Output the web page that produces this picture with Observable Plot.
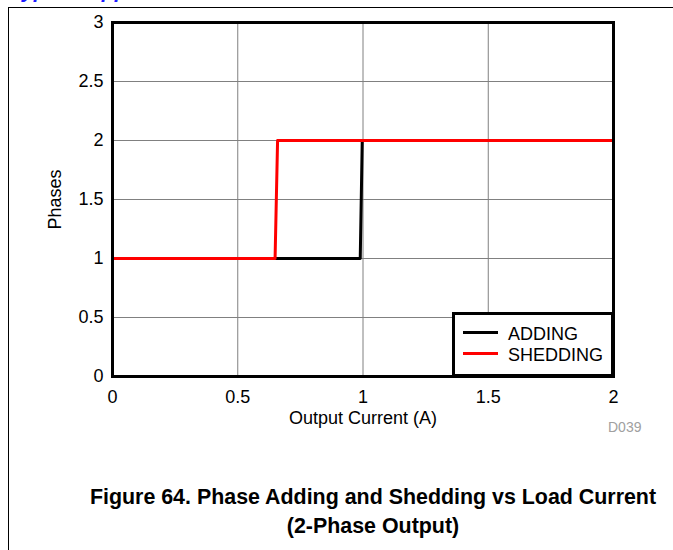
<!DOCTYPE html>
<html>
<head>
<meta charset="utf-8">
<script src="https://cdn.jsdelivr.net/npm/d3@7"></script>
<script src="https://cdn.jsdelivr.net/npm/@observablehq/plot@0.6"></script>
<style>
  html, body { margin: 0; padding: 0; background: #fff; }
  body { width: 673px; height: 550px; position: relative; overflow: hidden; font-family: "Liberation Sans", Arial, sans-serif; }
  #border { position: absolute; left: 8px; top: 7px; width: 700px; height: 600px; border-left: 1px solid #000; border-top: 1px solid #000; }
  #header { position: absolute; left: 10px; top: -20px; font-size: 21px; font-weight: bold; font-style: italic; color: #1a1aff; white-space: nowrap; line-height: 21px; }
  #chart { position: absolute; left: 0; top: 0; }
  #legend { position: absolute; left: 452px; top: 312px; width: 162px; height: 65px; box-sizing: border-box; border: 3px solid #000; background: #fff; }
  .lg { position: absolute; left: 8px; width: 35px; height: 0; border-top: 3px solid; }
  .lt { position: absolute; left: 53px; font-size: 18px; line-height: 18px; white-space: nowrap; color: #000; }
  #d039 { position: absolute; left: 608px; top: 420px; font-size: 14px; line-height: 14px; color: #a0a0a0; }
  .title { position: absolute; left: 0; width: 746px; text-align: center; font-size: 21.4px; font-weight: bold; line-height: 31px; color: #000; white-space: nowrap; }
</style>
</head>
<body>
<div id="border"></div>
<div id="header">Typical Applications</div>
<div id="chart"></div>
<div id="legend"></div>
<div id="d039">D039</div>
<div class="title" id="t1"></div>
<div class="title" id="t2"></div>
<script>
// ---- data ----
const addingCurrent = [0, 0.989, 0.997, 2];
const addingPhases  = [1, 1, 2, 2];
const sheddingCurrent = [0, 0.649, 0.659, 2];
const sheddingPhases  = [1, 1, 2, 2];
const xTicks = [0, 0.5, 1, 1.5, 2];
const yTicks = [0, 0.5, 1, 1.5, 2, 2.5, 3];
const seriesNames = ["ADDING", "SHEDDING"];
const seriesColors = ["#000000", "#ff0000"];
const xLabel = "Output Current (A)";
const yLabel = "Phases";
const titleLines = ["Figure 64. Phase Adding and Shedding vs Load Current", "(2-Phase Output)"];

const adding = addingCurrent.map((x, i) => ({x, y: addingPhases[i]}));
const shedding = sheddingCurrent.map((x, i) => ({x, y: sheddingPhases[i]}));

const chart = Plot.plot({
  width: 673,
  height: 440,
  marginTop: 22,
  marginLeft: 112,
  marginRight: 60,
  marginBottom: 64,
  style: { fontFamily: "Liberation Sans, Arial, sans-serif", background: "transparent", color: "#000" },
  x: { domain: [0, 2] },
  y: { domain: [0, 3] },
  marks: [
    Plot.gridX(xTicks.filter(t => t > 0 && t < 2), { stroke: "#808080", strokeOpacity: 1, strokeWidth: 1 }),
    Plot.gridY(yTicks.filter(t => t > 0 && t < 3), { stroke: "#808080", strokeOpacity: 1, strokeWidth: 1 }),
    Plot.line(adding, { x: "x", y: "y", stroke: seriesColors[0], strokeWidth: 3 }),
    Plot.line(shedding, { x: "x", y: "y", stroke: seriesColors[1], strokeWidth: 3 }),
    Plot.frame({ stroke: "#000", strokeWidth: 3 }),
    Plot.axisX(xTicks, { tickSize: 0, tickPadding: 14, fontSize: 18, label: null, tickFormat: d => String(d) }),
    Plot.axisY(yTicks, { tickSize: 0, tickPadding: 9, fontSize: 18, label: null, tickFormat: d => String(d) }),
    Plot.text([xLabel], { frameAnchor: "bottom", lineAnchor: "middle", textAnchor: "middle", dy: 42, fontSize: 18, text: d => d, fill: "#000" }),
    Plot.text([yLabel], { frameAnchor: "left", lineAnchor: "middle", textAnchor: "middle", dx: -57, rotate: -90, fontSize: 18, text: d => d, fill: "#000" })
  ]
});
document.getElementById("chart").appendChild(chart);

// legend
const legend = document.getElementById("legend");
seriesNames.forEach((name, i) => {
  const l = document.createElement("div");
  l.className = "lg";
  l.style.borderTopColor = seriesColors[i];
  l.style.top = (16 + i * 21) + "px";
  legend.appendChild(l);
  const t = document.createElement("div");
  t.className = "lt";
  t.style.top = (10 + i * 21) + "px";
  t.textContent = name;
  legend.appendChild(t);
});

// title
document.getElementById("t1").textContent = titleLines[0];
document.getElementById("t1").style.top = "482px";
document.getElementById("t2").textContent = titleLines[1];
document.getElementById("t2").style.top = "511px";
</script>
</body>
</html>
